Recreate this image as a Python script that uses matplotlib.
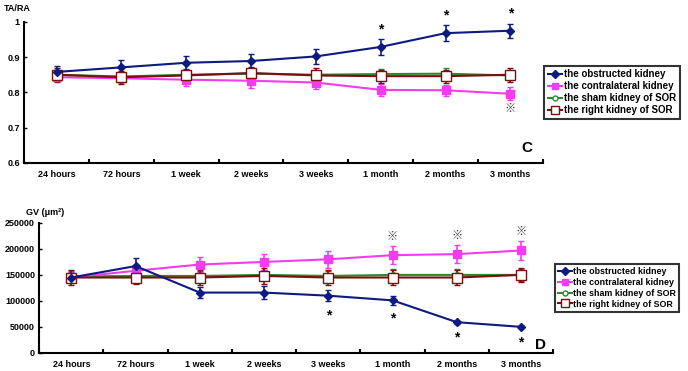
import matplotlib
matplotlib.use("Agg")
import matplotlib.pyplot as plt
from matplotlib.lines import Line2D
import numpy as np

plt.rcParams["font.family"] = ["Liberation Sans", "Noto Sans CJK SC", "DejaVu Sans"]
plt.rcParams["font.weight"] = "bold"

categories = ["24 hours", "72 hours", "1 week", "2 weeks", "3 weeks",
              "1 month", "2 months", "3 months"]
series_names = ["the obstructed kidney", "the contralateral kidney",
                "the sham kidney of SOR", "the right kidney of SOR"]

# panel C: TA/RA
ta_obstructed = [0.858, 0.871, 0.884, 0.889, 0.902, 0.929, 0.968, 0.975]
ta_obstructed_err = [0.018, 0.020, 0.020, 0.020, 0.022, 0.022, 0.022, 0.020]
ta_contra = [0.843, 0.840, 0.836, 0.833, 0.828, 0.807, 0.806, 0.796]
ta_contra_err = [0.012, 0.012, 0.018, 0.020, 0.018, 0.016, 0.016, 0.018]
ta_sham = [0.850, 0.845, 0.850, 0.853, 0.850, 0.852, 0.853, 0.848]
ta_sham_err = [0.012, 0.012, 0.012, 0.012, 0.012, 0.015, 0.015, 0.012]
ta_right = [0.850, 0.843, 0.848, 0.855, 0.848, 0.846, 0.846, 0.850]
ta_right_err = [0.020, 0.018, 0.018, 0.018, 0.020, 0.018, 0.018, 0.020]
ta_star = [5, 6, 7]
ta_ref = [7]

# panel D: GV
gv_obstructed = [145000, 167000, 116000, 116000, 110000, 101000, 59000, 50000]
gv_obstructed_err = [8000, 15000, 11000, 12000, 11000, 8000, 3000, 2500]
gv_contra = [145000, 158000, 170000, 175000, 180000, 188000, 190000, 197000]
gv_contra_err = [10000, 10000, 15000, 15000, 16000, 17000, 17000, 18000]
gv_sham = [147000, 148000, 148000, 150000, 148000, 150000, 150000, 150000]
gv_sham_err = [10000, 10000, 10000, 10000, 10000, 12000, 12000, 12000]
gv_right = [145000, 145000, 145000, 148000, 145000, 145000, 145000, 150000]
gv_right_err = [14000, 12000, 14000, 16000, 15000, 14000, 14000, 14000]
gv_star = [4, 5, 6, 7]
gv_ref = [5, 6, 7]

styles = [
    dict(color="#0d1a80", marker="D", mfc="#0d1a80", mec="#0d1a80", ms=4.5),
    dict(color="#f23cf0", marker="s", mfc="#f23cf0", mec="#f23cf0", ms=5.5),
    dict(color="#2f8a2f", marker="o", mfc="white", mec="#2f8a2f", ms=4),
    dict(color="#7a0f0f", marker="s", mfc="white", mec="#7a0f0f", ms=7),
]

fig = plt.figure(figsize=(6.88, 3.71), dpi=100)
ax_c = fig.add_axes([0.035, 0.561, 0.754, 0.380])
ax_d = fig.add_axes([0.057, 0.049, 0.747, 0.350])

x = np.arange(len(categories))


def draw_panel(ax, values, errs, ylim, yticks, yticklabels):
    # sham below, then contralateral, right kidney, obstructed on top
    for i in [2, 1, 3, 0]:
        st = styles[i]
        ax.errorbar(x, values[i], yerr=errs[i], color=st["color"], lw=1.5,
                    marker=st["marker"], mfc=st["mfc"], mec=st["mec"],
                    ms=st["ms"], mew=1.0, elinewidth=1.2, capsize=2.5,
                    capthick=1.5)
    ax.set_xlim(-0.5, len(categories) - 0.5)
    ax.set_ylim(*ylim)
    ax.set_xticks(np.arange(len(categories) + 1) - 0.5)
    ax.set_xticklabels([])
    ax.set_xticks(x, minor=True)
    ax.set_xticklabels(categories, minor=True, fontsize=6.5, fontweight="bold")
    ax.tick_params(axis="x", which="major", direction="in", length=3, width=1.5)
    ax.tick_params(axis="x", which="minor", length=0, pad=5)
    ax.set_yticks(yticks)
    ax.set_yticklabels(yticklabels, fontsize=6.5, fontweight="bold")
    ax.tick_params(axis="y", direction="in", length=2, width=1, pad=3)
    for side in ["top", "right"]:
        ax.spines[side].set_visible(False)
    for side in ["left", "bottom"]:
        ax.spines[side].set_linewidth(1.5)


def add_legend(anchor, size):
    handles = [Line2D([], [], color=st["color"], lw=1.5, marker=st["marker"],
                      mfc=st["mfc"], mec=st["mec"], ms=st["ms"] * 0.9, mew=1.0)
               for st in styles]
    leg = fig.legend(handles, series_names, loc="upper left", bbox_to_anchor=anchor,
                     fontsize=size, frameon=True, fancybox=False, handlelength=1.5,
                     handletextpad=0.2, borderpad=0.35, labelspacing=0.2,
                     borderaxespad=0)
    leg.get_frame().set_edgecolor("black")
    leg.get_frame().set_linewidth(1.5)
    for t in leg.get_texts():
        t.set_fontweight("bold")
    return leg


draw_panel(ax_c, [ta_obstructed, ta_contra, ta_sham, ta_right],
           [ta_obstructed_err, ta_contra_err, ta_sham_err, ta_right_err],
           (0.6, 1.0), [0.6, 0.7, 0.8, 0.9, 1.0],
           ["0.6", "0.7", "0.8", "0.9", "1"])
draw_panel(ax_d, [gv_obstructed, gv_contra, gv_sham, gv_right],
           [gv_obstructed_err, gv_contra_err, gv_sham_err, gv_right_err],
           (0, 250000), [0, 50000, 100000, 150000, 200000, 250000],
           ["0", "50000", "100000", "150000", "200000", "250000"])

# significance marks
for i in ta_star:
    ax_c.annotate("*", (x[i], ta_obstructed[i] + ta_obstructed_err[i]),
                  xytext=(0, 2), textcoords="offset points", ha="center",
                  va="bottom", fontsize=10, fontweight="bold")
for i in ta_ref:
    ax_c.annotate("\u203b", (x[i], ta_contra[i] - ta_contra_err[i]),
                  xytext=(0, -3), textcoords="offset points", ha="center",
                  va="top", fontsize=8, color="#333333")
for i in gv_star:
    ax_d.annotate("*", (x[i], gv_obstructed[i] - gv_obstructed_err[i]),
                  xytext=(0, -15), textcoords="offset points", ha="center",
                  va="bottom", fontsize=10, fontweight="bold")
for i in gv_ref:
    ax_d.annotate("\u203b", (x[i], gv_contra[i] + gv_contra_err[i]),
                  xytext=(0, 3), textcoords="offset points", ha="center",
                  va="bottom", fontsize=8, color="#333333")

fig.text(0.005, 0.978, "TA/RA", fontsize=6.5, fontweight="bold", va="center")
fig.text(0.038, 0.428, "GV (\u03bcm\u00b2)", fontsize=6.5, va="center")
fig.text(0.766, 0.600, "C", fontsize=11, fontweight="bold", va="center", ha="center")
fig.text(0.785, 0.070, "D", fontsize=11, fontweight="bold", va="center", ha="center")

add_legend((0.791, 0.822), 7)
add_legend((0.807, 0.288), 6.4)

fig.savefig("out.png", dpi=100)
